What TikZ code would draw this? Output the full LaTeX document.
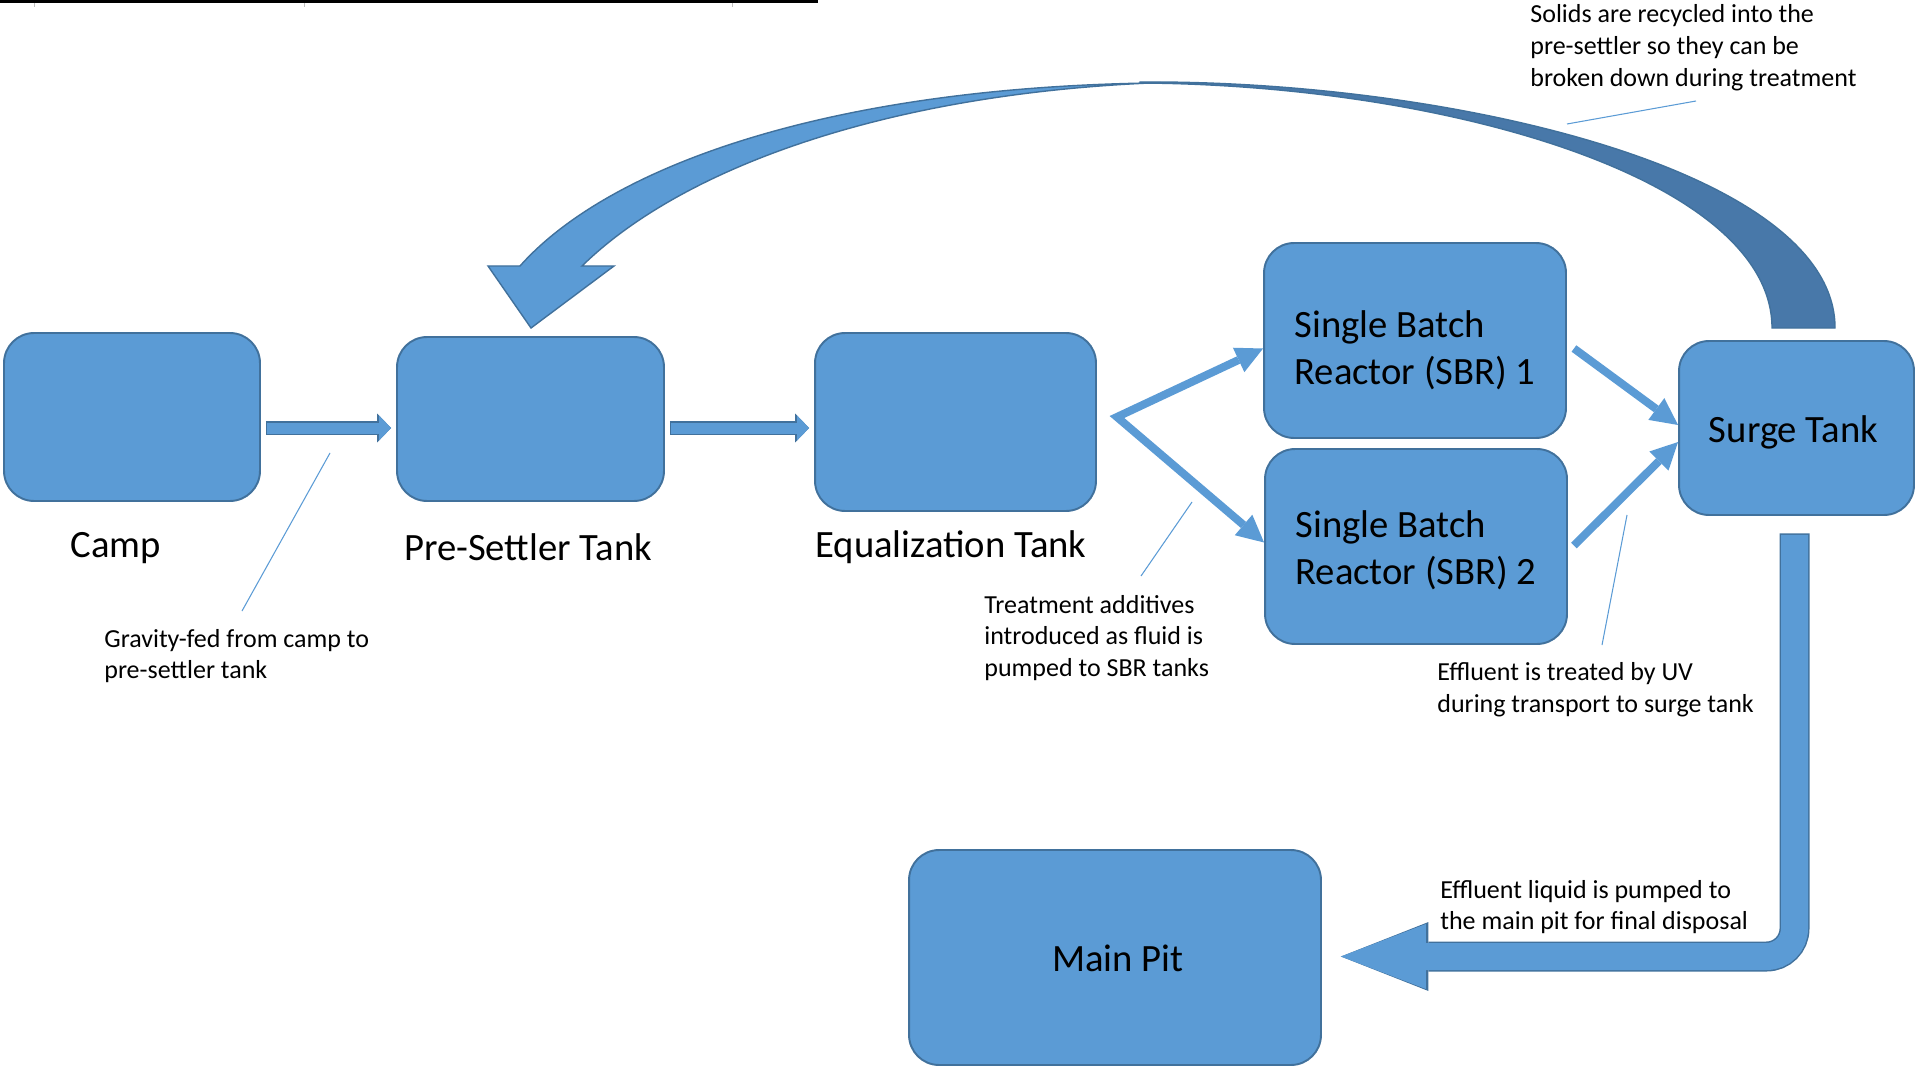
\documentclass[tikz,border=0pt]{standalone}
\usepackage{fontspec}
\setmainfont{Carlito}
\usetikzlibrary{calc,arrows.meta}
\definecolor{tankblue}{HTML}{5B9BD5}
\definecolor{tankedge}{HTML}{41719C}
\definecolor{backblue}{HTML}{4878A9}

\begin{document}
\begin{tikzpicture}[x=0.02cm, y=-0.02cm,
        tank/.style={draw=tankedge, fill=tankblue, line width=1.1pt, rounded corners=0.6cm, inner sep=0pt},
        tanktext/.style={inner sep=0pt, align=left, font=\fontsize{22}{26.7}\selectfont},
        lbl/.style={inner sep=0pt, font=\fontsize{22}{26.7}\selectfont},
        note/.style={anchor=west, inner sep=0pt, align=left, font=\fontsize{14.8}{18.1}\selectfont},
        leader/.style={draw=tankblue, line width=0.6pt},
        feedtip/.tip={Triangle[length=0.54cm, width=0.54cm, line width=0pt]},
        feed/.style={draw=tankblue, line width=0.16cm, line join=miter},
        pipe/.style={draw=tankblue, line width=0.22cm, -{Triangle[length=0.24cm, width=0.5cm, line width=0pt]},
            preaction={draw=tankedge, line width=0.27cm, shorten <=-0.02cm, -{Triangle[length=0.28cm, width=0.58cm, line width=0pt]}}},
        outflow/.style={draw=tankblue, line width=0.54cm, rounded corners=0.56cm, -{Triangle[length=1.7cm, width=1.3cm, line width=0pt]},
            preaction={draw=tankedge, line width=0.6cm, shorten <=-0.03cm, -{Triangle[length=1.75cm, width=1.38cm, line width=0pt]}}}]
        \useasboundingbox (0,0) rectangle (1915,1067);

        \draw[line width=0.06cm] (0,1.5) -- (818,1.5);
        \foreach \x in {34,304,732}
            \draw[gray!50, line width=0.5pt] (\x,3) -- (\x,7);

        \node[tank, minimum width=5.12cm, minimum height=3.36cm] (camp) at (132,417) {};
        \node[tank, minimum width=5.34cm, minimum height=3.28cm] (presettler) at (530.5,419) {};
        \node[tank, minimum width=5.62cm, minimum height=3.56cm] (equal) at (955.5,422) {};
        \node[tank, minimum width=6.04cm, minimum height=3.9cm,
            label={[tanktext, yshift=-0.2cm]center:Single Batch\\Reactor (SBR) 1}] (sbrone) at (1415,340.5) {};
        \node[tank, minimum width=6.04cm, minimum height=3.9cm,
            label={[tanktext, yshift=-0.08cm]center:Single Batch\\Reactor (SBR) 2}] (sbrtwo) at (1416,546.5) {};
        \node[tank, minimum width=4.7cm, minimum height=3.48cm,
            label={[tanktext, yshift=-0.08cm, xshift=-0.06cm]center:Surge Tank}] (surge) at (1796.5,428) {};
        \node[tank, minimum width=8.24cm, minimum height=4.3cm,
            label={[tanktext, yshift=-0.02cm, xshift=0.06cm]center:Main Pit}] (mainpit) at (1115,957.5) {};

        \node[lbl] (camplbl) at (116,548) {Camp};
        \node[lbl] (presettlerlbl) at (528,547) {Pre-Settler Tank};
        \node[lbl] (equallbl) at (951,547) {Equalization Tank};

        \node[note] (gravitynote) at (104,656) {Gravity-fed from camp to\\pre-settler tank};
        \node[note] (additivenote) at (984,638) {Treatment additives\\introduced as fluid is\\pumped to SBR tanks};
        \node[note] (uvnote) at (1437,690) {Effluent is treated by UV\\during transport to surge tank};
        \node[note] (pumpnote) at (1440,907) {Effluent liquid is pumped to\\the main pit for final disposal};
        \node[note] (solidsnote) at (1530,48) {Solids are recycled into the\\pre-settler so they can be\\broken down during treatment};

        \draw[pipe] ($(camp.east)+(6,11)$) -- ($(presettler.west)+(-5,9)$);
        \draw[pipe] ($(presettler.east)+(6,9)$) -- ($(equal.west)+(-5,6)$);

        \coordinate (fork) at ($(equal.east)+(20,-5)$);
        \draw[feed, feedtip-feedtip] ($(sbrone.west)+(0,8)$) -- (fork) -- ($(sbrtwo.west)+(0,-4)$);
        \draw[feed, -feedtip] ($(sbrone.east)+(7,8)$) -- ($(surge.west)+(0,-3)$);
        \draw[feed, -feedtip] ($(sbrtwo.east)+(6,-1)$) -- ($(surge.west)+(0,14)$);

        \draw[outflow] ($(surge.south)+(-2,19)$) |- ($(mainpit.east)+(19,-1)$);

        \fill[tankblue, draw=tankedge, line width=0.8pt] (520,266) -- (488,266) -- (531,328) -- (614,266) -- (582,266)
            .. controls (680,170) and (880,95) .. (1150,83) .. controls (830,88) and (610,165) .. (520,266) -- cycle;
        \fill[backblue, draw=tankedge, line width=0.8pt] (1140,82) .. controls (1450,80) and (1835,170) .. (1835,328)
            -- (1772,328) .. controls (1772,180) and (1450,85) .. (1140,83) -- cycle;

        \coordinate (gravityA) at (330,453);
        \coordinate (gravityB) at (242,611);
        \coordinate (additiveA) at (1192,502);
        \coordinate (additiveB) at (1141,576);
        \coordinate (uvA) at (1627,515);
        \coordinate (uvB) at (1602,645);
        \coordinate (solidsA) at (1567,124);
        \coordinate (solidsB) at (1696,101);
        \draw[leader] (gravityA) -- (gravityB);
        \draw[leader] (additiveA) -- (additiveB);
        \draw[leader] (uvA) -- (uvB);
        \draw[leader] (solidsA) -- (solidsB);
    \end{tikzpicture}
\end{document}
